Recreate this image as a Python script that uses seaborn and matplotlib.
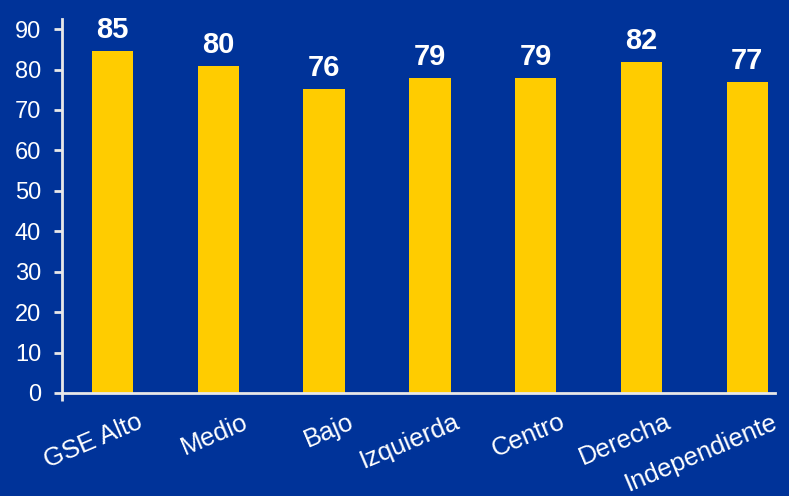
import matplotlib
matplotlib.use("Agg")
import matplotlib.pyplot as plt
import matplotlib.transforms as mtransforms
import seaborn as sns
import pandas as pd

categories = ["GSE Alto", "Medio", "Bajo", "Izquierda", "Centro", "Derecha", "Independiente"]
values = [84.6, 80.9, 75.2, 77.9, 77.9, 81.8, 76.9]
labels = ["85", "80", "76", "79", "79", "82", "77"]
yticks = [0, 10, 20, 30, 40, 50, 60, 70, 80, 90]

BG = "#003399"
BAR = "#FFCC00"
FG = "white"

sns.set_theme(style="white")
plt.rcParams["font.family"] = ["Liberation Sans", "DejaVu Sans"]

df = pd.DataFrame({"cat": categories, "val": values})

fig = plt.figure(figsize=(7.89, 4.96), dpi=100, facecolor=BG)
ax = fig.add_axes([0.0786, 0.2077, 0.9034, 0.754])
ax.set_facecolor(BG)

sns.barplot(data=df, x="cat", y="val", color=BAR, width=0.39, saturation=1,
            edgecolor="none", ax=ax)

for i, (v, lab) in enumerate(zip(values, labels)):
    ax.annotate(lab, (i, v), xytext=(0, 5), textcoords="offset points",
                ha="center", va="bottom", color=FG, fontsize=21, fontweight="bold")

ax.set_ylim(0, 92.5)
ax.set_xlim(-0.477, 6.26)
ax.set_yticks(yticks)
ax.set_xlabel("")
ax.set_ylabel("")

for s in ["top", "right"]:
    ax.spines[s].set_visible(False)
for s in ["left", "bottom"]:
    ax.spines[s].set_color("#E8E8E8")
    ax.spines[s].set_linewidth(2)

ax.tick_params(axis="y", colors=FG, labelsize=17, length=6, width=2, direction="out",
               left=True, pad=9, color="#E8E8E8")
ax.tick_params(axis="x", which="major", colors=FG, labelsize=18.5, length=0, pad=12)
ax.set_xticks([-0.477], minor=True)
ax.tick_params(axis="x", which="minor", length=6, width=2, color="#E8E8E8", bottom=True)

offset = mtransforms.ScaledTranslation(24 / 100, 0, fig.dpi_scale_trans)
for t in ax.get_xticklabels():
    t.set_rotation(23)
    t.set_ha("right")
    t.set_rotation_mode("anchor")
    t.set_color(FG)
    t.set_transform(t.get_transform() + offset)

fig.savefig("out.png", dpi=100, facecolor=BG)
